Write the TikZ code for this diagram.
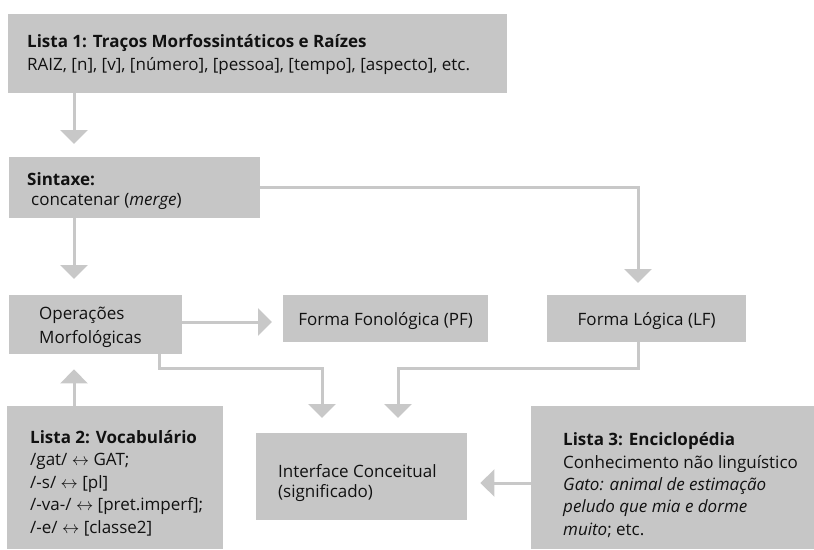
\documentclass[tikz,border=0pt]{standalone}
\usepackage{fontspec}
\setmainfont{Open Sans}
\usetikzlibrary{arrows.meta}
\definecolor{cinza}{HTML}{C6C6C6}
\definecolor{linha}{HTML}{C8C8C8}
\definecolor{tinta}{HTML}{111111}

\begin{document}
\begin{tikzpicture}[x=1pt,y=-1pt,
  caixa/.style={fill=cinza, inner sep=0pt, anchor=north west},
  texto/.style={anchor=base west, align=left, inner sep=0pt, text=tinta,
    font=\fontsize{17}{22.5}\selectfont},
  centro/.style={anchor=base, inner sep=0pt, text=tinta,
    font=\fontsize{17}{20}\selectfont},
  seta/.style={draw=linha, line width=3pt,
    -{Triangle[width=27pt,length=14pt]}, shorten >=14pt}]

  \useasboundingbox (0,0) rectangle (814,549);

  % caixas
  \node[caixa, minimum width=499, minimum height=79] (lista1) at (8,14) {};
  \node[caixa, minimum width=251, minimum height=61] (sintaxe) at (9,157) {};
  \node[caixa, minimum width=173, minimum height=59] (oper) at (9,295) {};
  \node[caixa, minimum width=205, minimum height=47] (pf) at (283,295) {};
  \node[caixa, minimum width=199, minimum height=47] (lf) at (547,295) {};
  \node[caixa, minimum width=211, minimum height=87] (interf) at (256,433) {};
  \node[caixa, minimum width=216, minimum height=143] (lista2) at (7,406) {};
  \node[caixa, minimum width=283, minimum height=143] (lista3) at (531,406) {};

  % textos (ancorados na linha de base da ultima linha)
  \node[texto] (lista1txt) at (27,70)
    {\textbf{Lista 1: Traços Morfossintáticos e Raízes}\\
     RAIZ, [n], [v], [número], [pessoa], [tempo], [aspecto], etc.};
  \node[texto, font=\fontsize{17}{20}\selectfont] (sintaxetxt) at (27,205)
    {\textbf{Sintaxe:}\\\hspace*{4pt}concatenar (\textit{merge})};
  \node[texto, font=\fontsize{17}{24}\selectfont] (opertxt) at (39,343)
    {Operações\\Morfológicas};
  \node[centro] (pftxt) at (pf.center |- 0,325) {Forma Fonológica (PF)};
  \node[centro] (lftxt) at (lf.center |- 0,325) {Forma Lógica (LF)};
  \node[texto, font=\fontsize{17}{20}\selectfont] (interftxt) at (278,497)
    {Interface Conceitual\\(significado)};
  \node[texto] (lista2txt) at (30,533)
    {\textbf{Lista 2: Vocabulário}\\
     /gat/ $\leftrightarrow$ GAT;\\
     /-s/ $\leftrightarrow$ [pl]\\
     /-va-/ $\leftrightarrow$ [pret.imperf];\\
     /-e/ $\leftrightarrow$ [classe2]};
  \node[texto, font=\fontsize{17}{22.3}\selectfont] (lista3txt) at (563,535)
    {\textbf{Lista 3: Enciclopédia}\\
     Conhecimento não linguístico\\
     \textit{Gato: animal de estimação}\\
     \textit{peludo que mia e dorme}\\
     \textit{muito}; etc.};

  % pontos de dobra
  \coordinate (eixo) at (74,0);
  \coordinate (dobraA) at (159,368);
  \coordinate (dobraB) at (322,368);
  \coordinate (dobraC) at (638,368);
  \coordinate (dobraD) at (398,368);
  \coordinate (nivelPF) at (0,322);
  \coordinate (nivelL3) at (0,483);

  % setas
  \draw[seta, shorten >=13pt] (lista1.south -| eixo) -- (sintaxe.north -| eixo);
  \draw[seta, shorten >=16pt] (sintaxe.south -| eixo) -- (oper.north -| eixo);
  \draw[seta, shorten >=15pt] (lista2.north -| eixo) -- (oper.south -| eixo);
  \draw[seta, shorten >=12pt] (sintaxe.east) -| (lf.north -| dobraC);
  \draw[seta, shorten >=11pt] (oper.east |- nivelPF) -- (pf.west |- nivelPF);
  \draw[seta, shorten >=15pt] (oper.south -| dobraA) |- (dobraB) -- (interf.north -| dobraB);
  \draw[seta, shorten >=15pt] (lf.south -| dobraC) |- (dobraD) -- (interf.north -| dobraD);
  \draw[seta, shorten >=13pt] (lista3.west |- nivelL3) -- (interf.east |- nivelL3);

\end{tikzpicture}
\end{document}
